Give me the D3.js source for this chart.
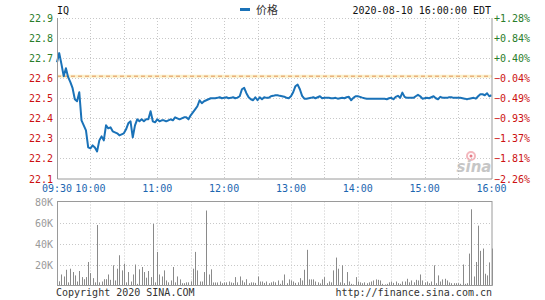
<!DOCTYPE html>
<html>
<head>
<meta charset="utf-8">
<script src="https://cdn.jsdelivr.net/npm/d3@7"></script>
<style>
    body { margin: 0; background: #fff; }
    svg { display: block; }
    .mono { font-family: "DejaVu Sans Mono", "Liberation Mono", monospace; font-size: 10px; }
    .grid line { stroke: #c8c8c8; stroke-dasharray: 1,2; }
</style>
</head>
<body>
<div id="chart"></div>
<script>
const symbol = "IQ";
const legendLabel = "价格";
const stampLabel = "2020-08-10 16:00:00 EDT";
const prevClose = 22.61;

const priceTicks = [22.9, 22.8, 22.7, 22.6, 22.5, 22.4, 22.3, 22.2, 22.1];
const timeLabels = ["09:30", "10:00", "11:00", "12:00", "13:00", "14:00", "15:00", "16:00"];
const timeLabelMinutes = [0, 30, 90, 150, 210, 270, 330, 390];
const volumeTicks = [20000, 40000, 60000, 80000];

// one point every 2 minutes from 09:30 to 16:00
const prices = [
    22.68, 22.725, 22.67, 22.61, 22.65, 22.605, 22.58, 22.55, 22.495, 22.485,
    22.53, 22.39, 22.365, 22.34, 22.255, 22.25, 22.265, 22.255, 22.235, 22.29,
    22.31, 22.29, 22.365, 22.35, 22.355, 22.335, 22.33, 22.325, 22.315, 22.32,
    22.325, 22.345, 22.375, 22.385, 22.305, 22.365, 22.395, 22.385, 22.395, 22.385,
    22.395, 22.395, 22.435, 22.385, 22.38, 22.395, 22.385, 22.39, 22.39, 22.385,
    22.39, 22.395, 22.39, 22.405, 22.4, 22.395, 22.4, 22.405, 22.405, 22.395,
    22.415, 22.43, 22.445, 22.46, 22.49, 22.475, 22.485, 22.49, 22.495, 22.5,
    22.5, 22.5, 22.502, 22.505, 22.5, 22.502, 22.505, 22.5, 22.502, 22.505,
    22.5, 22.503, 22.51, 22.545, 22.552, 22.525, 22.505, 22.495, 22.49, 22.505,
    22.49, 22.505, 22.495, 22.505, 22.502, 22.502, 22.51, 22.512, 22.515, 22.515,
    22.512, 22.51, 22.508, 22.502, 22.5, 22.51, 22.53, 22.56, 22.568, 22.545,
    22.512, 22.498, 22.498, 22.5, 22.502, 22.505, 22.5, 22.505, 22.51, 22.5,
    22.502, 22.502, 22.502, 22.5, 22.5, 22.502, 22.498, 22.5, 22.502, 22.5,
    22.505, 22.507, 22.49, 22.502, 22.51, 22.51, 22.507, 22.503, 22.5, 22.498,
    22.498, 22.498, 22.498, 22.498, 22.498, 22.498, 22.498, 22.497, 22.495, 22.5,
    22.502, 22.495, 22.507, 22.512, 22.502, 22.528, 22.507, 22.502, 22.502, 22.502,
    22.502, 22.51, 22.517, 22.51, 22.498, 22.5, 22.502, 22.5, 22.505, 22.51,
    22.5, 22.495, 22.507, 22.503, 22.502, 22.502, 22.505, 22.505, 22.502, 22.502,
    22.502, 22.502, 22.5, 22.498, 22.495, 22.498, 22.5, 22.502, 22.498, 22.51,
    22.52, 22.52, 22.515, 22.525, 22.51, 22.515
];

// thousands of shares, one bar every 2 minutes
const volumes = [
    41.6, 4, 10.5, 8.6, 15, 3, 16, 12.8, 9.6, 3.8,
    13.8, 8, 6, 8, 22.4, 11.8, 7, 3, 57.6, 3,
    3.8, 6, 6, 10.5, 5.4, 19.2, 4.8, 16, 28.8, 14.4,
    20.8, 3, 12.8, 3.8, 10.5, 20, 1.6, 15.4, 17.6, 12.8,
    7.4, 13.8, 8, 58.6, 3, 32, 10.5, 8.6, 14.4, 4.8,
    3, 4.8, 17.6, 3, 8.6, 5.8, 2.2, 2.2, 3, 3,
    4, 16, 32, 14.4, 3.8, 3.8, 12.8, 71.4, 10.5, 15.4,
    2.9, 2.9, 2.9, 3.8, 2.2, 2.9, 3, 3.8, 2.9, 2.5,
    8, 3, 8.6, 4.8, 3, 6, 2.2, 3, 2.9, 2.5,
    8.6, 3.8, 3.8, 2.5, 3.8, 2.2, 3, 3.8, 3, 4.8,
    1.6, 4.8, 10.5, 2.2, 5.8, 4.8, 3.8, 2.5, 3, 7,
    4.8, 15, 34, 5.8, 5.8, 5.8, 3.8, 3, 2, 5.8,
    8, 2.2, 3.8, 3, 14.4, 26.6, 16, 3, 19.2, 2.2,
    12.8, 3.8, 1.6, 1, 8, 3.8, 3, 2.2, 3, 2.2,
    3, 3.8, 4.8, 5.8, 5.4, 4.8, 1.6, 1, 1.6, 3,
    3.8, 2.5, 3.8, 2.2, 1.6, 3.8, 3.8, 6.4, 3, 4.8,
    3, 5.4, 4.8, 10.5, 4.8, 2.9, 3.8, 2.2, 3.8, 19.2,
    2.2, 9.6, 3.8, 5.8, 6.4, 4.8, 2.9, 2.2, 2.2, 2.2,
    2.2, 1.6, 20, 1.6, 2.2, 30.4, 72.6, 8.6, 22.4, 57,
    33, 35.2, 11.2, 9.6, 22, 35.2
];

const width = 545;
const height = 300;
const plot = { left: 57, right: 491.5, top: 18, bottom: 178.5 };
const volPanel = { top: 201.5, bottom: 285.5 };

const svg = d3.select("#chart")
    .append("svg")
    .attr("width", width)
    .attr("height", height);

const x = d3.scaleLinear().domain([0, 390]).range([plot.left, plot.right]);
const y = d3.scaleLinear().domain([22.1, 22.9]).range([plot.bottom, plot.top]);
const yVol = d3.scaleLinear().domain([0, 80000]).range([volPanel.bottom, volPanel.top]);

const gridMinutes = d3.range(30, 390, 30);
const colorFor = (v) => (v >= prevClose ? "#2a7d2a" : "#cc1111");

// price panel grid
const grid = svg.append("g").attr("class", "grid");
grid.selectAll(".hx")
    .data(priceTicks.slice(0, -1))
    .enter()
    .append("line")
    .attr("x1", plot.left).attr("x2", plot.right)
    .attr("y1", (d) => Math.round(y(d)) + 0.5).attr("y2", (d) => Math.round(y(d)) + 0.5);
grid.selectAll(".vx")
    .data(gridMinutes)
    .enter()
    .append("line")
    .attr("x1", (d) => Math.round(x(d)) + 0.5).attr("x2", (d) => Math.round(x(d)) + 0.5)
    .attr("y1", plot.top).attr("y2", plot.bottom);

// volume panel grid
const vgrid = svg.append("g").attr("class", "grid");
vgrid.selectAll(".hv")
    .data(volumeTicks.slice(0, -1))
    .enter()
    .append("line")
    .attr("x1", plot.left).attr("x2", plot.right)
    .attr("y1", (d) => Math.round(yVol(d)) + 0.5).attr("y2", (d) => Math.round(yVol(d)) + 0.5);
vgrid.selectAll(".vv")
    .data(gridMinutes)
    .enter()
    .append("line")
    .attr("x1", (d) => Math.round(x(d)) + 0.5).attr("x2", (d) => Math.round(x(d)) + 0.5)
    .attr("y1", volPanel.top).attr("y2", volPanel.bottom);

// previous close line
svg.append("line")
    .attr("x1", plot.left).attr("x2", plot.right)
    .attr("y1", y(prevClose)).attr("y2", y(prevClose))
    .attr("stroke", "#fbefc8").attr("stroke-width", 3);
svg.append("line")
    .attr("x1", plot.left).attr("x2", plot.right)
    .attr("y1", y(prevClose)).attr("y2", y(prevClose))
    .attr("stroke", "#e0955a").attr("stroke-width", 1)
    .attr("stroke-dasharray", "4,3");

// sina watermark
const mark = svg.append("g").attr("opacity", 0.75);
mark.append("circle")
    .attr("cx", 471).attr("cy", 156).attr("r", 4)
    .attr("fill", "none").attr("stroke", "#f0a0a8").attr("stroke-width", 2);
mark.append("circle")
    .attr("cx", 471).attr("cy", 156).attr("r", 1.5)
    .attr("fill", "#e05060");
mark.append("text")
    .attr("x", 474).attr("y", 172)
    .attr("text-anchor", "middle")
    .attr("font-family", "DejaVu Sans")
    .attr("font-style", "italic")
    .attr("font-weight", "bold")
    .attr("font-size", 15)
    .attr("fill", "#b4b4b4")
    .text("sina");

// price line
const line = d3.line()
    .x((d, i) => x(i * 2))
    .y((d) => y(d));
svg.append("path")
    .datum(prices)
    .attr("d", line)
    .attr("fill", "none")
    .attr("stroke", "#1a72b8")
    .attr("stroke-width", 2)
    .attr("stroke-linejoin", "round");

// volume bars
svg.append("g")
    .selectAll("line")
    .data(volumes)
    .enter()
    .append("line")
    .attr("x1", (d, i) => Math.round(x(i * 2)) + 0.5)
    .attr("x2", (d, i) => Math.round(x(i * 2)) + 0.5)
    .attr("y1", volPanel.bottom)
    .attr("y2", (d) => yVol(d * 1000))
    .attr("stroke", "#8a8a8a")
    .attr("stroke-width", 1);

// panel borders
const border = "#9a9a9a";
svg.append("path")
    .attr("d", `M${plot.left + 0.5},${plot.top}V${plot.bottom + 0.5}H${plot.right + 0.5}V${plot.top}`)
    .attr("fill", "none").attr("stroke", border);
svg.append("rect")
    .attr("x", plot.left + 0.5).attr("y", volPanel.top)
    .attr("width", plot.right - plot.left).attr("height", volPanel.bottom - volPanel.top)
    .attr("fill", "none").attr("stroke", border);

// left price labels
svg.append("g")
    .selectAll("text")
    .data(priceTicks)
    .enter()
    .append("text")
    .attr("class", "mono")
    .attr("x", 53)
    .attr("y", (d) => y(d) + 4)
    .attr("text-anchor", "end")
    .attr("fill", colorFor)
    .text((d) => d.toFixed(1));

// right percentage labels
const pct = d3.format("+.2f");
svg.append("g")
    .selectAll("text")
    .data(priceTicks)
    .enter()
    .append("text")
    .attr("class", "mono")
    .attr("x", 494)
    .attr("y", (d) => y(d) + 4)
    .attr("fill", colorFor)
    .text((d) => pct((d / prevClose - 1) * 100) + "%");

// time labels
svg.append("g")
    .selectAll("text")
    .data(timeLabels)
    .enter()
    .append("text")
    .attr("class", "mono")
    .attr("x", (d, i) => x(timeLabelMinutes[i]))
    .attr("y", 192)
    .attr("text-anchor", "middle")
    .attr("fill", "#1c66b0")
    .text((d) => d);

// volume labels
svg.append("g")
    .selectAll("text")
    .data(volumeTicks)
    .enter()
    .append("text")
    .attr("class", "mono")
    .attr("x", 53)
    .attr("y", (d) => yVol(d) + 4)
    .attr("text-anchor", "end")
    .attr("fill", "#9a9a9a")
    .text((d) => d / 1000 + "K");

// header
svg.append("text")
    .attr("class", "mono")
    .attr("x", 57).attr("y", 14)
    .attr("fill", "#111")
    .text(symbol);
svg.append("line")
    .attr("x1", 240).attr("x2", 250)
    .attr("y1", 9.5).attr("y2", 9.5)
    .attr("stroke", "#1a72b8").attr("stroke-width", 3);
svg.append("text")
    .attr("x", 256).attr("y", 14)
    .attr("font-family", "Noto Sans CJK SC")
    .attr("font-size", 11)
    .attr("fill", "#333")
    .text(legendLabel);
svg.append("text")
    .attr("class", "mono")
    .attr("x", 491).attr("y", 14)
    .attr("text-anchor", "end")
    .attr("fill", "#111")
    .text(stampLabel);

// footer
svg.append("text")
    .attr("class", "mono")
    .attr("x", 56).attr("y", 296)
    .attr("fill", "#333")
    .text("Copyright 2020 SINA.COM");
svg.append("text")
    .attr("class", "mono")
    .attr("x", 492).attr("y", 296)
    .attr("text-anchor", "end")
    .attr("fill", "#333")
    .text("http://finance.sina.com.cn");
</script>
</body>
</html>
